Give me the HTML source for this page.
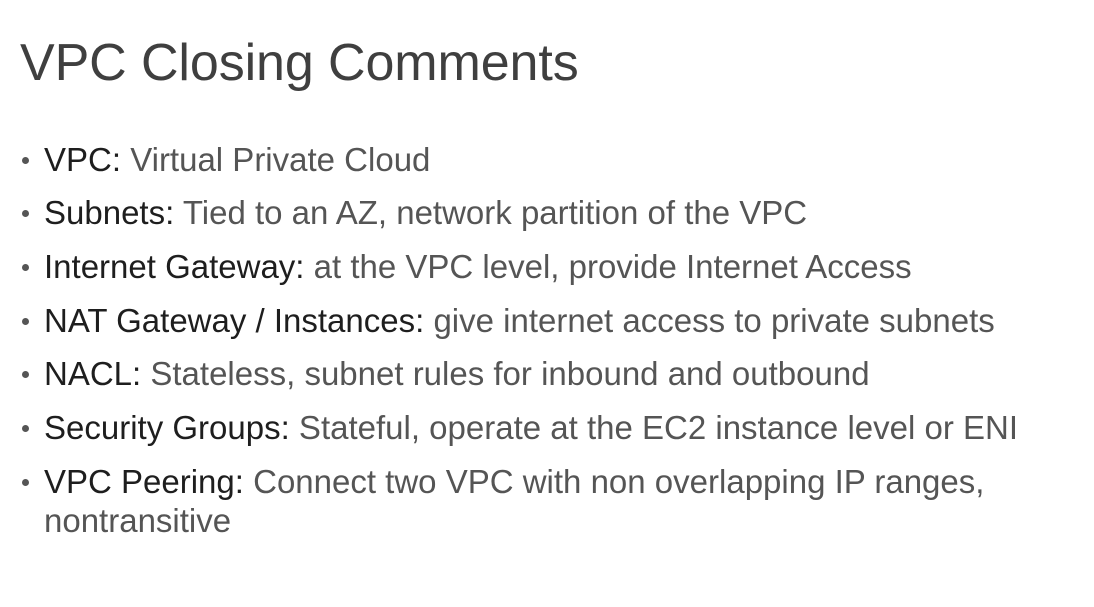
<!DOCTYPE html>
<html><head><meta charset="utf-8"><style>
html,body{margin:0;padding:0;background:#fff;width:1094px;height:607px;overflow:hidden;}
body{font-family:"Liberation Sans",sans-serif;position:relative;}
.t{position:absolute;left:20px;top:28px;font-size:52px;color:#3f3f3f;line-height:70px;letter-spacing:-0.1px;}
.l{position:absolute;left:44px;font-size:33px;line-height:40px;color:#555;white-space:nowrap;letter-spacing:0px;}
.l b{font-weight:normal;color:#1e1e1e;}
.d{position:absolute;left:22px;width:7px;height:7px;border-radius:50%;background:#555;}
</style></head><body>
<div class="t">VPC Closing Comments</div>
<div class="d" style="top:157px"></div><div class="l" style="top:140px"><b>VPC:</b> Virtual Private Cloud</div>
<div class="d" style="top:210px"></div><div class="l" style="top:193px"><b>Subnets:</b> Tied to an AZ, network partition of the VPC</div>
<div class="d" style="top:264px"></div><div class="l" style="top:247px"><b>Internet Gateway:</b> at the VPC level, provide Internet Access</div>
<div class="d" style="top:318px"></div><div class="l" style="top:301px"><b>NAT Gateway / Instances:</b> give internet access to private subnets</div>
<div class="d" style="top:371px"></div><div class="l" style="top:354px"><b>NACL:</b> Stateless, subnet rules for inbound and outbound</div>
<div class="d" style="top:425px"></div><div class="l" style="top:408px"><b>Security Groups:</b> Stateful, operate at the EC2 instance level or ENI</div>
<div class="d" style="top:479px"></div><div class="l" style="top:462px"><b>VPC Peering:</b> Connect two VPC with non overlapping IP ranges,</div>
<div class="l" style="top:501px">nontransitive</div>
</body></html>
